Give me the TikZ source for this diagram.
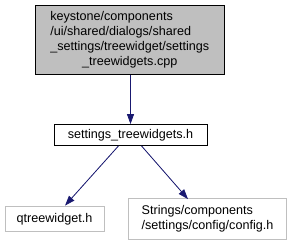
\documentclass[tikz,border=0pt]{standalone}
\usepackage{fontspec}
\setmainfont{Liberation Sans}
\usepackage{tikz}
\usetikzlibrary{arrows.meta,positioning}
\definecolor{dxnavy}{RGB}{25,25,112}
\definecolor{dxgrey}{RGB}{191,191,191}
\newcommand{\fname}[1]{#1}

\begin{document}
\begin{tikzpicture}[x=1pt,y=-1pt,>={Triangle[length=10pt,width=7pt]},
    font=\fontsize{12.6}{15}\selectfont,
    every node/.style={inner sep=0pt,align=center},
    filebox/.style={draw,line width=0.8pt,minimum height=#1},
    filebox/.default=21pt,
    dep/.style={->,draw=dxnavy,fill=dxnavy,line width=0.8pt}]
    \useasboundingbox (0,0) rectangle (293,245);
    \node[filebox=69.5pt,fill=dxgrey,minimum width=189.5pt] (src) at (129.75,39.75)
      {\begin{tabular}{@{}l@{}}keystone/components\\/ui/shared/dialogs/shared\\\_settings/treewidget/settings\\\multicolumn{1}{@{}c@{}}{\_treewidgets.cpp}\end{tabular}};
    \node[filebox,fill=white,minimum width=153pt] (hdr) at (130.5,135) {\fname{settings\_treewidgets.h}};
    \node[filebox=25.5pt,draw=dxgrey,minimum width=99pt] (qtw) at (54.5,218.75) {\fname{qtreewidget.h}};
    \node[filebox=40.5pt,draw=dxgrey,minimum width=158pt] (cfg) at (207.5,218.75)
      {\begin{tabular}{@{}l@{}}Strings/components\\/settings/config/config.h\end{tabular}};
    \draw[dep] (src.south-|hdr.north) -- (hdr.north);
    \draw[dep] ([xshift=-12pt]hdr.south) -- ([xshift=10.5pt]qtw.north);
    \draw[dep] ([xshift=11pt]hdr.south) -- ([xshift=-19.5pt,yshift=-1pt]cfg.north);
  \end{tikzpicture}
\end{document}
